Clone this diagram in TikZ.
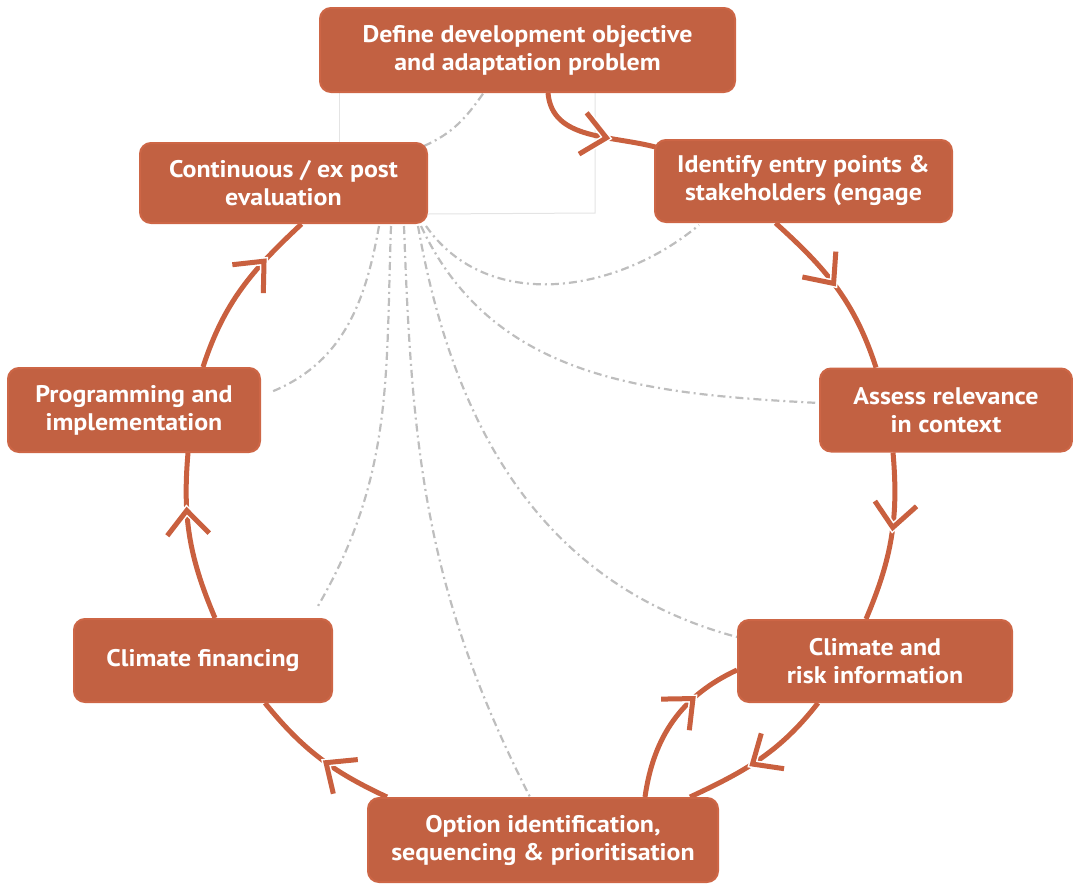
\documentclass[tikz,border=0pt]{standalone}
\usepackage{fontspec}
\setmainfont{PT Sans}[FakeStretch=1.08]
\usetikzlibrary{calc,decorations.markings}
\definecolor{boxfill}{HTML}{C26142}
\definecolor{boxedge}{HTML}{CD6646}
\definecolor{cyc}{HTML}{C9603F}
\definecolor{dashgrey}{HTML}{BEBEBE}
\definecolor{faint}{HTML}{E4E4E4}
\pgfdeclarelayer{bg}
\pgfsetlayers{bg,main}
\tikzset{
  stage/.style={draw=boxedge, line width=2pt, fill=boxfill, rounded corners=11pt,
    text=white, font=\bfseries\fontsize{24}{28}\selectfont, align=center, inner sep=0pt},
  cycline/.style={draw=cyc, line width=5pt},
  chev/.style={postaction={decorate, decoration={markings, mark=at position #1 with {
      \draw[white, line width=8pt, line join=miter] (-24pt,21pt) -- (0pt,0pt) -- (-24pt,-21pt);
      \draw[cyc, line width=5pt, line join=miter] (-24pt,21pt) -- (0pt,0pt) -- (-24pt,-21pt);
  }}}},
  link/.style={draw=dashgrey, line width=2.2pt, dash pattern=on 8pt off 4pt on 2pt off 4pt},
  faintline/.style={draw=faint, line width=1pt}
}
\begin{document}
\begin{tikzpicture}[x=1pt,y=1pt]
\useasboundingbox (0,0) rectangle (1073,-892);

\node[stage, minimum width=415pt, minimum height=84pt] (define) at (527.5,-50) {Define development objective\\and adaptation problem};
\node[stage, minimum width=297pt, minimum height=82pt] (identify) at (803.5,-181) {Identify entry points \&\\stakeholders (engage};
\node[stage, minimum width=252pt, minimum height=83pt] (assess) at (946,-410) {Assess relevance\\in context};
\node[stage, minimum width=274pt, minimum height=82pt] (risk) at (875,-661) {Climate and\\risk information};
\node[stage, minimum width=350pt, minimum height=84pt] (option) at (543,-840) {Option identification,\\sequencing \& prioritisation};
\node[stage, minimum width=258pt, minimum height=83pt] (financing) at (203,-660.5) {Climate financing};
\node[stage, minimum width=252pt, minimum height=84pt] (programming) at (134,-410) {Programming and\\implementation};
\node[stage, minimum width=287pt, minimum height=80pt] (eval) at (283.5,-183) {Continuous / ex post\\evaluation};

\begin{pgfonlayer}{bg}
  % faint frame
  \draw[faintline] ($(define.south west)+(20,0)$) -- ($(eval.north west)+(200,0)$);
  \draw[faintline] ($(define.south)+(67.5,0)$) -- (595,-213) -- ($(eval.south east)+(0,10)$);

  % grey dash-dot links
  \draw[link] ($(eval.north east)+(-4,-4)$) to[out=24, in=235] ($(define.south)+(-44,0)$);
  \draw[link] ($(eval.south east)+(-2,-2)$) to[out=-55, in=220] ($(identify.south west)+(45,-2)$);
  \draw[link] ($(eval.south east)+(-7,-2)$) to[out=-65, in=177] ($(assess.west)+(0,7)$);
  \draw[link] ($(eval.south east)+(-10,-2)$) to[out=-80, in=165] ($(risk.west)+(0,24)$);
  \draw[link] ($(eval.south east)+(-24,-2)$) to[out=-88, in=117] ($(option.north)+(-13,0)$);
  \draw[link] ($(eval.south east)+(-37,-2)$) to[out=-92, in=60] ($(financing.north east)+(-15,12)$);
  \draw[link] ($(eval.south east)+(-49,-2)$) to[out=-100, in=22] ($(programming.east)+(10,18)$);

  % main cycle
  \draw[cycline, chev=0.6] ($(define.south)+(20.5,0)$) to[out=-85, in=164] ($(identify.west)+(5,33)$);
  \draw[cycline, chev=0.47] ($(identify.south)+(-28,0)$) to[out=-42, in=108] ($(assess.north)+(-70,0)$);
  \draw[cycline, chev=0.44] ($(assess.south)+(-53,0)$) to[out=-85, in=67] ($(risk.north)+(-9,0)$);
  \draw[cycline, chev=0.56] ($(risk.south)+(-57,0)$) to[out=-128, in=25] ($(option.north)+(147,0)$);
  \draw[cycline, chev=0.68] ($(option.north)+(102,0)$) to[out=82, in=205] ($(risk.west)+(0,-9)$);
  \draw[cycline, chev=0.45] ($(option.north west)+(20,0)$) to[out=155, in=-51] ($(financing.south)+(62,0)$);
  \draw[cycline, chev=0.66] ($(financing.north)+(12,0)$) to[out=113, in=-95] ($(programming.south)+(54,0)$);
  \draw[cycline, chev=0.7] ($(programming.north)+(69,0)$) to[out=72, in=223] ($(eval.south)+(18,0)$);
\end{pgfonlayer}
\end{tikzpicture}
\end{document}
